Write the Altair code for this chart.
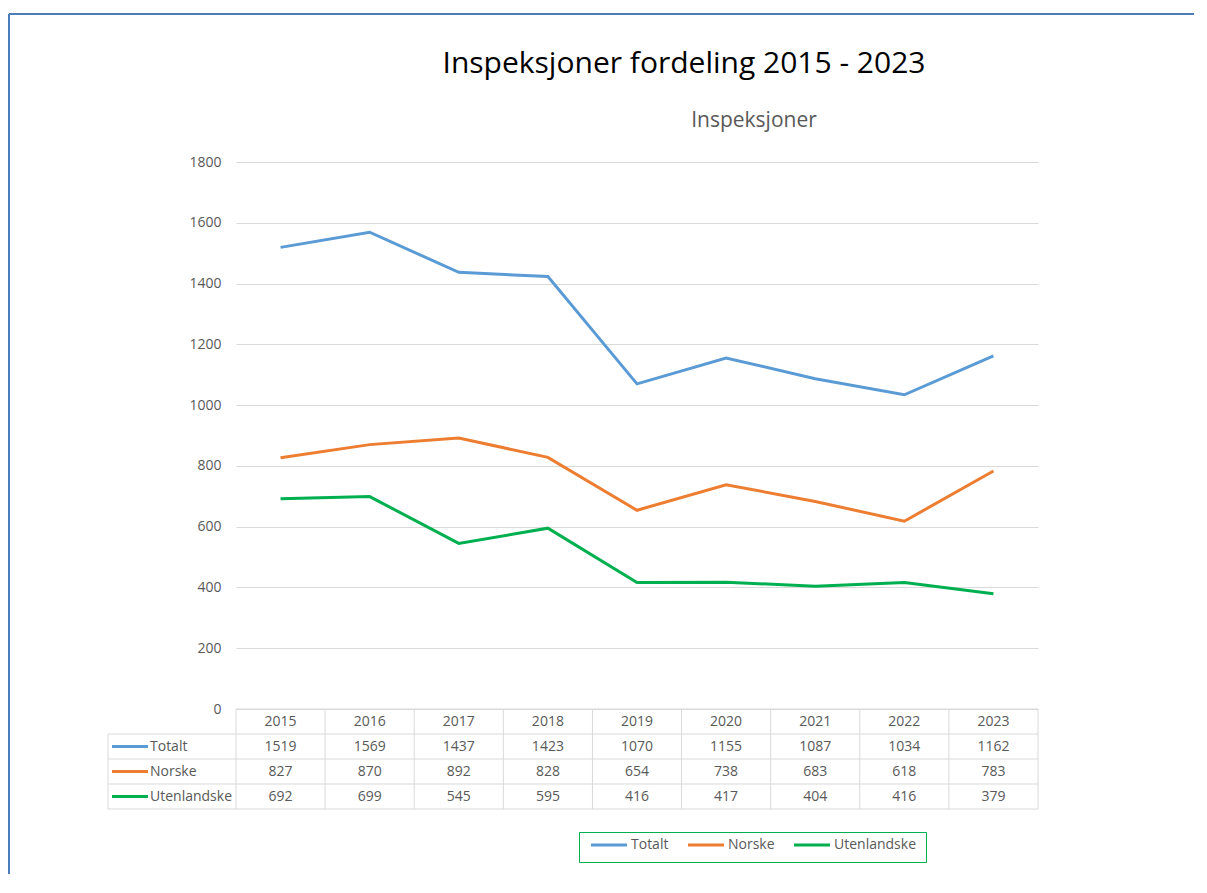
import altair as alt
import pandas as pd

# ---- data ----
years = ["2015", "2016", "2017", "2018", "2019", "2020", "2021", "2022", "2023"]
series_names = ["Totalt", "Norske", "Utenlandske"]
totalt = [1519, 1569, 1437, 1423, 1070, 1155, 1087, 1034, 1162]
norske = [827, 870, 892, 828, 654, 738, 683, 618, 783]
utenlandske = [692, 699, 545, 595, 416, 417, 404, 416, 379]
series_colors = ["#5b9bd5", "#ed7d31", "#00b050"]
y_ticks = [0, 200, 400, 600, 800, 1000, 1200, 1400, 1600, 1800]
title_text = "Inspeksjoner fordeling 2015 - 2023"
subtitle_text = "Inspeksjoner"

FONT = "Open Sans"
GRAY = "#595959"
GRID = "#d9d9d9"
W, H, TH = 802, 547, 100
NCOL = len(years)
COLW = W / NCOL
LBL = -128 / COLW  # left edge of the label column, in column units

rows = []
for r, (name, vals) in enumerate(zip(series_names, [totalt, norske, utenlandske])):
    for i, (yr, v) in enumerate(zip(years, vals)):
        rows.append({"series": name, "year": yr, "col": i + 0.5, "value": v, "row": r + 1.5})
df = pd.DataFrame(rows)

one = pd.DataFrame({"k": [0]})

# ---- main line chart ----
xs = alt.Scale(domain=[0, NCOL])
lines = alt.Chart(df).mark_line(strokeWidth=3).encode(
    x=alt.X("col:Q", scale=xs, axis=None),
    y=alt.Y("value:Q", scale=alt.Scale(domain=[0, 1800], nice=False),
            axis=alt.Axis(values=y_ticks, format="d", grid=True, gridColor=GRID, domain=False, ticks=False,
                          labelPadding=15, labelColor=GRAY, labelFontSize=14, labelFont=FONT, title=None)),
    color=alt.Color("series:N", scale=alt.Scale(domain=series_names, range=series_colors),
                    legend=alt.Legend(orient="none", legendX=343, legendY=670, direction="horizontal",
                                      title=None, symbolType="stroke", symbolSize=1300, clipHeight=6,
                                      symbolStrokeWidth=3, strokeColor="#00b050", padding=10,
                                      labelFontSize=14, labelFont=FONT, labelColor=GRAY,
                                      columnPadding=17, labelOffset=2)),
)

frame_left = alt.Chart(one).mark_rule(color="#4a7ebb", strokeWidth=2).encode(
    x=alt.value(-227), y=alt.value(-148), y2=alt.value(712))
frame_top = alt.Chart(one).mark_rule(color="#4a7ebb", strokeWidth=2).encode(
    x=alt.value(-227), x2=alt.value(958), y=alt.value(-148))

title = alt.Chart(one).mark_text(font=FONT, fontSize=30, color="#000000", baseline="middle").encode(
    x=alt.value(448), y=alt.value(-98), text=alt.value(title_text))
subtitle = alt.Chart(one).mark_text(font=FONT, fontSize=21, color=GRAY, baseline="middle").encode(
    x=alt.value(518), y=alt.value(-41), text=alt.value(subtitle_text))

main = alt.layer(frame_left, frame_top, title, subtitle, lines).properties(width=W, height=H)

# ---- data table ----
ys = alt.Scale(domain=[0, 4], reverse=True)
hl = pd.DataFrame({"y": [0, 1, 2, 3, 4], "x1": [0, LBL, LBL, LBL, LBL], "x2": [NCOL] * 5})
vl = pd.DataFrame({"x": list(range(NCOL + 1)) + [LBL], "y1": [0] * (NCOL + 1) + [1], "y2": [4] * (NCOL + 2)})
hdr = pd.DataFrame({"year": years, "col": [i + 0.5 for i in range(NCOL)], "row": [0.5] * NCOL})
lab = pd.DataFrame({"series": series_names, "row": [r + 1.5 for r in range(3)], "hex": series_colors,
                    "s1": [LBL + 4 / COLW] * 3, "s2": [LBL + 40 / COLW] * 3, "tx": [LBL + 42 / COLW] * 3})

hrules = alt.Chart(hl).mark_rule(color=GRID, strokeWidth=1).encode(
    x=alt.X("x1:Q", scale=xs, axis=None), x2="x2:Q", y=alt.Y("y:Q", scale=ys, axis=None))
vrules = alt.Chart(vl).mark_rule(color=GRID, strokeWidth=1).encode(
    x=alt.X("x:Q", scale=xs, axis=None), y=alt.Y("y1:Q", scale=ys, axis=None), y2="y2:Q")
hdr_text = alt.Chart(hdr).mark_text(font=FONT, fontSize=14, color=GRAY, baseline="middle").encode(
    x=alt.X("col:Q", scale=xs, axis=None), y=alt.Y("row:Q", scale=ys, axis=None), text="year:N")
val_text = alt.Chart(df).mark_text(font=FONT, fontSize=14, color=GRAY, baseline="middle").encode(
    x=alt.X("col:Q", scale=xs, axis=None), y=alt.Y("row:Q", scale=ys, axis=None), text=alt.Text("value:Q", format="d"))
swatch = alt.Chart(lab).mark_rule(strokeWidth=3).encode(
    x=alt.X("s1:Q", scale=xs, axis=None), x2="s2:Q", y=alt.Y("row:Q", scale=ys, axis=None),
    color=alt.Color("hex:N", scale=None))
lab_text = alt.Chart(lab).mark_text(font=FONT, fontSize=14, color=GRAY, baseline="middle", align="left").encode(
    x=alt.X("tx:Q", scale=xs, axis=None), y=alt.Y("row:Q", scale=ys, axis=None), text="series:N")

table = alt.layer(hrules, vrules, hdr_text, val_text, swatch, lab_text).properties(width=W, height=TH)

chart = alt.vconcat(main, table, spacing=0, bounds="flush").resolve_scale(
    x="independent", y="independent", color="shared"
).properties(
    padding={"left": 0, "top": 5, "right": 0, "bottom": 0}
).configure(font=FONT).configure_view(strokeWidth=0, stroke=None)

chart.save("out.html", embed_options={"renderer": "svg", "actions": False})
